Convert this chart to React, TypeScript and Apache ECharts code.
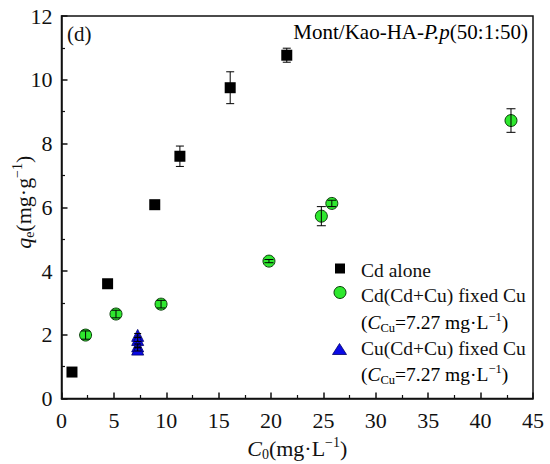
import React, { useEffect, useRef } from "react";
import * as echarts from "echarts";

// ---- data ----
const cdAloneX = [1.0, 4.4, 8.9, 11.3, 16.1, 21.5];
const cdAloneY = [0.83, 3.6, 6.08, 7.6, 9.75, 10.77];
const cdAloneErr = [0.04, 0.05, 0.1, 0.32, 0.5, 0.22];

const cdMixX = [2.3, 5.2, 9.5, 19.8, 24.8, 25.8, 42.9];
const cdMixY = [1.99, 2.65, 2.96, 4.31, 5.72, 6.12, 8.72];
const cdMixErr = [0.13, 0.12, 0.12, 0.05, 0.3, 0.1, 0.37];

const cuMixX = [7.27, 7.27, 7.27, 7.27];
const cuMixY = [1.98, 1.85, 1.65, 1.55];
const cuMixErr = [0.06, 0.06, 0.06, 0.06];

const xTicks = [0, 5, 10, 15, 20, 25, 30, 35, 40, 45];
const yTicks = [0, 2, 4, 6, 8, 10, 12];

const seriesNames = ["Cd alone", "Cd(Cd+Cu) fixed Cu", "Cu(Cd+Cu) fixed Cu"];
const panelLabel = "(d)";
const sampleLabel = ["Mont/Kao-HA-", "P.p", "(50:1:50)"];

const FONT = "Liberation Serif";

function pts(xs: number[], ys: number[]) {
  return xs.map((x, i) => [x, ys[i]]);
}
function errs(xs: number[], ys: number[], es: number[]) {
  return xs.map((x, i) => [x, ys[i] - es[i], ys[i] + es[i]]);
}

const errRender = (cap: number) => (params: any, api: any) => {
  const x = api.value(0);
  const lo = api.coord([x, api.value(1)]);
  const hi = api.coord([x, api.value(2)]);
  const st = { stroke: "#000", lineWidth: 1 };
  return {
    type: "group",
    children: [
      { type: "line", shape: { x1: lo[0], y1: lo[1], x2: hi[0], y2: hi[1] }, style: st },
      { type: "line", shape: { x1: lo[0] - cap, y1: lo[1], x2: lo[0] + cap, y2: lo[1] }, style: st },
      { type: "line", shape: { x1: hi[0] - cap, y1: hi[1], x2: hi[0] + cap, y2: hi[1] }, style: st },
    ],
  };
};

export default function App() {
  const ref = useRef<HTMLDivElement>(null);
  useEffect(() => {
    if (!ref.current) return;
    const chart = echarts.init(ref.current, null, { renderer: "svg" });
    const axisCommon = {
      axisLine: { show: true, lineStyle: { color: "#111", width: 1.5 } },
      axisTick: { show: true, inside: true, length: 6, lineStyle: { color: "#111", width: 1.5 } },
      minorTick: { show: true, splitNumber: 2, length: 3.5, lineStyle: { color: "#111", width: 1.2 } },
      splitLine: { show: false },
      axisLabel: { fontFamily: FONT, fontSize: 22, color: "#111" },
    };
    const legendRich = {
      n: { fontFamily: FONT, fontSize: 19.5, lineHeight: 24, color: "#111" },
      i: { fontFamily: FONT, fontSize: 19.5, lineHeight: 24, fontStyle: "italic", color: "#111" },
      sub: { fontFamily: FONT, fontSize: 12.5, lineHeight: 12, verticalAlign: "bottom", color: "#111" },
      sup: { fontFamily: FONT, fontSize: 12.5, lineHeight: 12, verticalAlign: "top", color: "#111" },
    };
    const nameRich = {
      n: { fontFamily: FONT, fontSize: 22, lineHeight: 26, color: "#111" },
      i: { fontFamily: FONT, fontSize: 22, lineHeight: 26, fontStyle: "italic", color: "#111" },
      sub: { fontFamily: FONT, fontSize: 14, lineHeight: 13, verticalAlign: "bottom", color: "#111" },
      sup: { fontFamily: FONT, fontSize: 14, lineHeight: 13, verticalAlign: "top", color: "#111" },
    };
    const ccu = "{n|(}{i|C}{sub|Cu}{n|=7.27 mg·L}{sup|−1}{n|)}";
    const plainStyle = (t: string, size: number) => ({
      text: t,
      font: `${size}px "Liberation Serif", serif`,
      fontFamily: FONT,
      fontSize: size,
      fill: "#111",
      verticalAlign: "middle",
    });
    const lx = 361;
    chart.setOption({
      animation: false,
      textStyle: { fontFamily: FONT },
      grid: {
        left: 61.5,
        right: 17,
        top: 16,
        bottom: 65.5,
        outerBoundsMode: "none",
        containLabel: false,
        show: true,
        borderColor: "#111",
        borderWidth: 1.5,
        backgroundColor: "transparent",
      },
      xAxis: {
        type: "value",
        min: xTicks[0],
        max: xTicks[xTicks.length - 1],
        interval: xTicks[1] - xTicks[0],
        ...axisCommon,
        axisLabel: { ...axisCommon.axisLabel, margin: 11 },
        name: "{i|C}{sub|0}{n|(mg·L}{sup|−1}{n|)}",
        nameLocation: "middle",
        nameGap: 37,
        nameMoveOverlap: false,
        nameTextStyle: { rich: nameRich },
      },
      yAxis: {
        type: "value",
        min: yTicks[0],
        max: yTicks[yTicks.length - 1],
        interval: yTicks[1] - yTicks[0],
        ...axisCommon,
        axisLabel: { ...axisCommon.axisLabel, margin: 9 },
        name: "{i|q}{sub|e}{n|(mg·g}{sup|−1}{n|)}",
        nameLocation: "middle",
        nameGap: 25,
        nameMoveOverlap: false,
        nameTextStyle: { rich: nameRich, padding: [0, 0, 0, 10] },
      },
      series: [
        {
          name: seriesNames[0],
          type: "scatter",
          symbol: "rect",
          symbolSize: 11,
          itemStyle: { color: "#000", opacity: 1 },
          data: pts(cdAloneX, cdAloneY),
          z: 2,
        },
        {
          name: seriesNames[1],
          type: "scatter",
          symbol: "circle",
          symbolSize: 12,
          itemStyle: { color: "#2ee82e", borderColor: "#0b3d0b", borderWidth: 1, opacity: 1 },
          data: pts(cdMixX, cdMixY),
          z: 2,
        },
        {
          name: seriesNames[2],
          type: "scatter",
          symbol: "triangle",
          symbolSize: 12,
          itemStyle: { color: "#0a0ae6", borderColor: "#00006a", borderWidth: 0.8, opacity: 1 },
          data: pts(cuMixX, cuMixY),
          z: 2,
        },
        {
          type: "custom",
          renderItem: errRender(4),
          data: errs(cdAloneX, cdAloneY, cdAloneErr),
          z: 3,
          silent: true,
        },
        {
          type: "custom",
          renderItem: errRender(4.5),
          data: errs(cdMixX, cdMixY, cdMixErr),
          z: 3,
          silent: true,
        },
        {
          type: "custom",
          renderItem: errRender(3.5),
          data: errs(cuMixX, cuMixY, cuMixErr),
          z: 3,
          silent: true,
        },
      ],
      graphic: [
        { type: "text", x: 67, y: 33.5, style: plainStyle(panelLabel, 21) },
        {
          type: "text",
          x: 528,
          y: 32,
          style: {
            text: `{n|${sampleLabel[0]}}{i|${sampleLabel[1]}}{n|${sampleLabel[2]}}`,
            align: "right",
            verticalAlign: "middle",
            rich: {
              n: { fontFamily: FONT, fontSize: 21, color: "#111" },
              i: { fontFamily: FONT, fontSize: 21, fontStyle: "italic", color: "#111" },
            },
          },
        },
        // legend
        { type: "rect", shape: { x: 335, y: 263.5, width: 10, height: 10 }, style: { fill: "#000" } },
        {
          type: "circle",
          shape: { cx: 340, cy: 292.5, r: 6 },
          style: { fill: "#2ee82e", stroke: "#0b3d0b", lineWidth: 1 },
        },
        {
          type: "polygon",
          shape: { points: [[339.5, 343.5], [332.5, 354.5], [346.5, 354.5]] },
          style: { fill: "#0a0ae6", stroke: "#00006a", lineWidth: 0.8 },
        },
        { type: "text", x: lx, y: 270, style: plainStyle(seriesNames[0], 19.5) },
        { type: "text", x: lx, y: 295, style: plainStyle(seriesNames[1], 19.5) },
        { type: "text", x: lx, y: 322, style: { text: ccu, rich: legendRich, verticalAlign: "middle" } },
        { type: "text", x: lx, y: 348.5, style: plainStyle(seriesNames[2], 19.5) },
        { type: "text", x: lx, y: 374, style: { text: ccu, rich: legendRich, verticalAlign: "middle" } },
      ],
    });
    return () => chart.dispose();
  }, []);
  return (
    <div
      ref={ref}
      style={{ position: "absolute", left: 0, top: 0, width: 550, height: 464, background: "#fff" }}
    />
  );
}
